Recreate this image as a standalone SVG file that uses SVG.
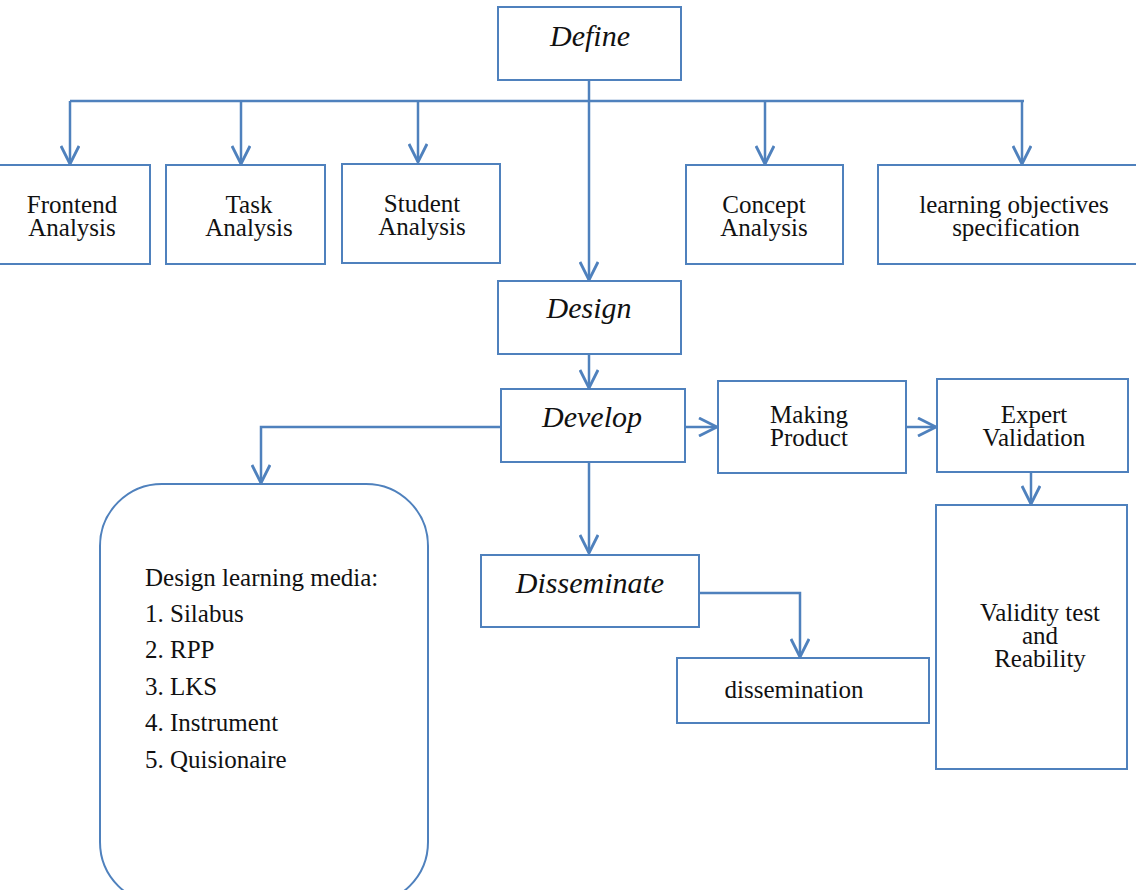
<svg xmlns="http://www.w3.org/2000/svg" width="1136" height="890" viewBox="0 0 1136 890">
<style>
.box{fill:#fff;stroke:#4f81bd;stroke-width:2}
.ln{fill:none;stroke:#4f81bd;stroke-width:2.5}
.t{font-family:"Liberation Serif",serif;font-size:25px;fill:#111;text-anchor:middle}
.h{font-family:"Liberation Serif",serif;font-size:30px;font-style:italic;fill:#111;text-anchor:middle}
.l{font-family:"Liberation Serif",serif;font-size:25px;fill:#111}
</style>
<defs>
<marker id="arr" viewBox="0 0 22 20" refX="20" refY="10" markerWidth="22" markerHeight="20" markerUnits="userSpaceOnUse" orient="auto">
<path d="M2,1 L20,10 L2,19" fill="none" stroke="#4f81bd" stroke-width="2.8"/>
</marker>
</defs>
<g id="connectors">
<path class="ln" d="M70,101 H1024"/>
<path class="ln" d="M70,101 V164" marker-end="url(#arr)"/>
<path class="ln" d="M241,101 V164" marker-end="url(#arr)"/>
<path class="ln" d="M418,101 V162" marker-end="url(#arr)"/>
<path class="ln" d="M765,101 V164" marker-end="url(#arr)"/>
<path class="ln" d="M1022,101 V164" marker-end="url(#arr)"/>
<path class="ln" d="M589,80 V280" marker-end="url(#arr)"/>
<path class="ln" d="M589,354 V388" marker-end="url(#arr)"/>
<path class="ln" d="M685,427 H717" marker-end="url(#arr)"/>
<path class="ln" d="M906,427 H936" marker-end="url(#arr)"/>
<path class="ln" d="M1031,472 V504" marker-end="url(#arr)"/>
<path class="ln" d="M501,427 H261 V483" marker-end="url(#arr)"/>
<path class="ln" d="M589,462 V553" marker-end="url(#arr)"/>
<path class="ln" d="M699,593 H800 V657" marker-end="url(#arr)"/>
</g>
<g id="define"><rect class="box" x="498" y="7" width="183" height="73"/><text class="h" x="590" y="46">Define</text></g>
<g id="frontend"><rect class="box" x="-5" y="165" width="155" height="99"/><text class="t" x="72" y="213">Frontend</text><text class="t" x="72" y="236">Analysis</text></g>
<g id="task"><rect class="box" x="166" y="165" width="159" height="99"/><text class="t" x="249" y="213">Task</text><text class="t" x="249" y="236">Analysis</text></g>
<g id="student"><rect class="box" x="342" y="164" width="158" height="99"/><text class="t" x="422" y="212">Student</text><text class="t" x="422" y="235">Analysis</text></g>
<g id="concept"><rect class="box" x="686" y="165" width="157" height="99"/><text class="t" x="764" y="213">Concept</text><text class="t" x="764" y="236">Analysis</text></g>
<g id="objectives"><rect class="box" x="878" y="165" width="270" height="99"/><text class="t" x="1014" y="213">learning objectives</text><text class="t" x="1016" y="236">specification</text></g>
<g id="design"><rect class="box" x="498" y="281" width="183" height="73"/><text class="h" x="589" y="318">Design</text></g>
<g id="develop"><rect class="box" x="501" y="389" width="184" height="73"/><text class="h" x="592" y="427">Develop</text></g>
<g id="making"><rect class="box" x="718" y="381" width="188" height="92"/><text class="t" x="809" y="423">Making</text><text class="t" x="809" y="446">Product</text></g>
<g id="expert"><rect class="box" x="937" y="379" width="191" height="93"/><text class="t" x="1034" y="423">Expert</text><text class="t" x="1034" y="446">Validation</text></g>
<g id="validity"><rect class="box" x="936" y="505" width="191" height="264"/><text class="t" x="1040" y="621">Validity test</text><text class="t" x="1040" y="644">and</text><text class="t" x="1040" y="667">Reability</text></g>
<g id="media"><rect class="box" x="100" y="484" width="328" height="420" rx="62" ry="62"/>
<text class="l" x="145" y="586">Design learning media:</text>
<text class="l" x="145" y="622">1. Silabus</text>
<text class="l" x="145" y="658">2. RPP</text>
<text class="l" x="145" y="695">3. LKS</text>
<text class="l" x="145" y="731">4. Instrument</text>
<text class="l" x="145" y="768">5. Quisionaire</text>
</g>
<g id="disseminate"><rect class="box" x="481" y="555" width="218" height="72"/><text class="h" x="590" y="593">Disseminate</text></g>
<g id="dissemination"><rect class="box" x="677" y="658" width="252" height="65"/><text class="t" x="794" y="698">dissemination</text></g>
</svg>
